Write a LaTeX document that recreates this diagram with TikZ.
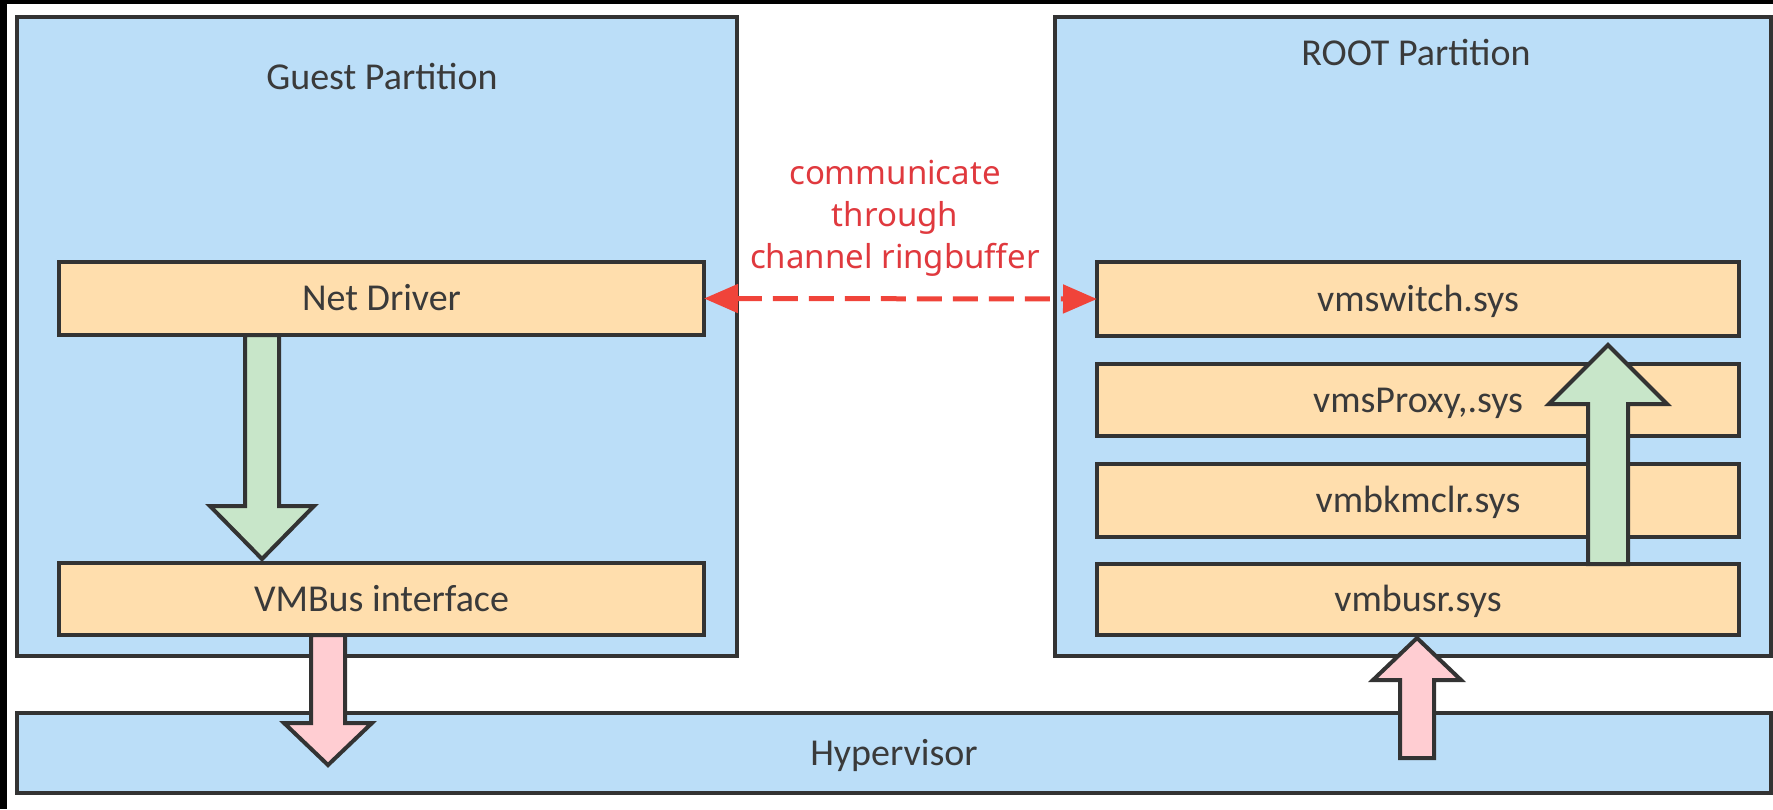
\documentclass[tikz,border=0pt]{standalone}
\usepackage{fontspec}
\setmainfont{Carlito}
\newfontfamily\notefont{Noto Sans}
\usetikzlibrary{arrows.meta,calc}

\definecolor{partblue}{HTML}{BBDEF8}
\definecolor{layerorange}{HTML}{FFDEAD}
\definecolor{flowgreen}{HTML}{C8E6C9}
\definecolor{flowpink}{HTML}{FFCDD2}
\definecolor{edgegray}{HTML}{333333}
\definecolor{labelgray}{HTML}{3A3A3A}
\definecolor{notered}{HTML}{E0393E}
\definecolor{linkred}{HTML}{F0443A}

% vertical block arrow: tail, tip, shaft half width, head half width,
% head offset from the tip (positive = pointing down), style
\newcommand{\blockarrow}[6]{%
  \draw[#6] let \p1=(#1), \p2=(#2) in
    (\x1-#3,\y1) -- (\x1-#3,\y2+#5) -- (\x1-#4,\y2+#5) -- (\x2,\y2)
    -- (\x1+#4,\y2+#5) -- (\x1+#3,\y2+#5) -- (\x1+#3,\y1) -- cycle;}

\begin{document}
\begin{tikzpicture}[x=1pt,y=-1pt,
  box/.style={draw=edgegray, line width=4pt, rectangle, inner sep=0pt,
    outer sep=0pt, text=labelgray, font=\fontsize{38}{44}\selectfont,
    text height=25pt, text depth=1pt},
  part/.style={box, fill=partblue},
  layer/.style={box, fill=layerorange, minimum width=645pt},
  title/.style={text=labelgray, font=\fontsize{38}{44}\selectfont,
    inner sep=0pt, text height=25pt, text depth=1pt},
  flow/.style={draw=edgegray, line width=4pt, line join=miter},
  note/.style={text=notered, font=\notefont\fontsize{33}{42}\selectfont,
    align=center, inner sep=0pt},
  link/.style={draw=linkred, line width=5pt, dash pattern=on 25pt off 11pt,
    {Triangle[length=34pt,width=28pt]}-{Triangle[length=34pt,width=28pt]}},
]
\useasboundingbox (0,0) rectangle (1773,809);
\fill[black] (0,0) rectangle (1773,809);
\fill[white] (7,4) rectangle (1773,809);

% partitions and hypervisor
\node[part, minimum width=720pt, minimum height=639pt] (gp) at (377,336.5) {};
\node[part, minimum width=716pt, minimum height=639pt] (rp) at (1413,336.5) {};
\node[part, minimum width=1754pt, minimum height=80pt] (hv) at (894,753) {Hypervisor};

\node[title] (gpt) at (382,77) {Guest Partition};
\node[title] (rpt) at (1416,53) {ROOT Partition};

% guest layers
\node[layer, minimum height=73pt] (nd) at (381.5,298.5) {Net Driver};
\node[layer, minimum height=72pt] (vb) at (381.5,599) {VMBus interface};

% root layers
\node[layer, minimum width=642pt, minimum height=74pt] (vsw) at (1418,299) {vmswitch.sys};
\node[layer, minimum width=642pt, minimum height=72pt] (vpx) at (1418,400) {vmsProxy,.sys};
\node[layer, minimum width=642pt, minimum height=73pt] (vkm) at (1418,500.5) {vmbkmclr.sys};
\node[layer, minimum width=642pt, minimum height=71pt] (vbr) at (1418,599.5) {vmbusr.sys};

% channel link
\node[note] (ring) at (895,218) {communicate\\through\\channel ringbuffer};
\draw[link] (nd.east) -- (vsw.west);

% data flow arrows
\coordinate (gdTail) at ([xshift=-119.5pt]nd.south);
\coordinate (gdTip)  at ([xshift=-119.5pt,yshift=4pt]vb.north);
\blockarrow{gdTail}{gdTip}{17pt}{52pt}{53pt}{flow, fill=flowgreen}

\coordinate (pdTail) at ([xshift=-53.5pt]vb.south);
\coordinate (pdTop)  at (pdTail |- hv.north);
\coordinate (pdTip)  at ([yshift=-52pt]pdTop);
\blockarrow{pdTail}{pdTip}{17pt}{44pt}{42pt}{flow, fill=flowpink}

\coordinate (puTail) at ([xshift=523pt,yshift=-5pt]hv.center);
\coordinate (puTip)  at ([xshift=-1pt,yshift=-3pt]vbr.south);
\blockarrow{puTail}{puTip}{17pt}{44pt}{0pt-42pt}{flow, fill=flowpink}

\coordinate (guTail) at ([xshift=190pt]vbr.north);
\coordinate (guTip)  at ([xshift=190pt,yshift=-9pt]vsw.south);
\blockarrow{guTail}{guTip}{20pt}{59pt}{0pt-59pt}{flow, fill=flowgreen}
\end{tikzpicture}
\end{document}
